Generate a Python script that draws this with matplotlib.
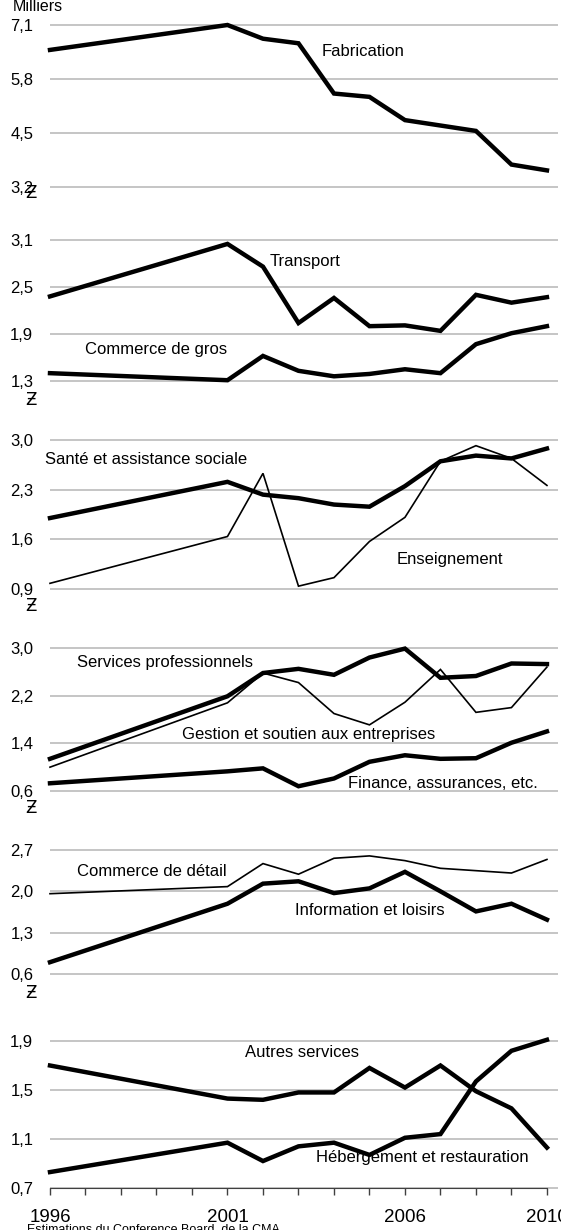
import matplotlib.pyplot as plt
import numpy as np

plt.rcParams['font.family'] = ['Liberation Sans', 'DejaVu Sans']

years = [1996, 2001, 2002, 2003, 2004, 2005, 2006, 2007, 2008, 2009, 2010]

fabrication = [6.50, 7.10, 6.77, 6.66, 5.45, 5.37, 4.81, 4.68, 4.55, 3.74, 3.60]
transport = [2.38, 3.05, 2.76, 2.04, 2.36, 2.00, 2.01, 1.94, 2.40, 2.30, 2.37]
commerce_gros = [1.40, 1.31, 1.62, 1.43, 1.36, 1.39, 1.45, 1.40, 1.77, 1.91, 2.00]
sante = [1.90, 2.41, 2.23, 2.18, 2.09, 2.06, 2.35, 2.70, 2.78, 2.74, 2.88]
enseignement = [0.98, 1.64, 2.53, 0.94, 1.06, 1.57, 1.91, 2.70, 2.92, 2.74, 2.36]
services_pro = [1.14, 2.19, 2.58, 2.65, 2.55, 2.84, 2.99, 2.50, 2.53, 2.74, 2.73]
gestion = [1.00, 2.08, 2.58, 2.42, 1.90, 1.71, 2.09, 2.64, 1.92, 2.00, 2.68]
finance = [0.73, 0.93, 0.98, 0.68, 0.81, 1.09, 1.20, 1.14, 1.15, 1.41, 1.60]
commerce_detail = [1.96, 2.08, 2.47, 2.29, 2.56, 2.60, 2.52, 2.39, 2.35, 2.31, 2.54]
information = [0.80, 1.79, 2.13, 2.17, 1.97, 2.05, 2.33, 2.00, 1.66, 1.79, 1.52]
autres = [1.70, 1.43, 1.42, 1.48, 1.48, 1.68, 1.52, 1.70, 1.49, 1.35, 1.03]
hebergement = [0.83, 1.07, 0.92, 1.04, 1.07, 0.97, 1.11, 1.14, 1.57, 1.82, 1.91]

yticks_list = [
    [3.2, 4.5, 5.8, 7.1],
    [1.3, 1.9, 2.5, 3.1],
    [0.9, 1.6, 2.3, 3.0],
    [0.6, 1.4, 2.2, 3.0],
    [0.6, 1.3, 2.0, 2.7],
    [0.7, 1.1, 1.5, 1.9],
]

# (values, line width, label, label x, label y)
panels = [
    [(fabrication, 3.2, 'Fabrication', 2003.66, 6.47)],
    [(transport, 3.2, 'Transport', 2002.2, 2.82),
     (commerce_gros, 3.2, 'Commerce de gros', 1997.0, 1.70)],
    [(sante, 3.2, 'Santé et assistance sociale', 1995.86, 2.72),
     (enseignement, 1.2, 'Enseignement', 2005.77, 1.31)],
    [(services_pro, 3.2, 'Services professionnels', 1996.76, 2.75),
     (gestion, 1.2, 'Gestion et soutien aux entreprises', 1999.72, 1.54),
     (finance, 3.2, 'Finance, assurances, etc.', 2004.39, 0.73)],
    [(commerce_detail, 1.2, 'Commerce de détail', 1996.76, 2.33),
     (information, 3.2, 'Information et loisirs', 2002.9, 1.68)],
    [(autres, 3.2, 'Autres services', 2001.49, 1.81),
     (hebergement, 3.2, 'Hébergement et restauration', 2003.49, 0.945)],
]

# panel pixel extents (top tick, bottom tick)
extents = [(25, 187), (240, 381), (440, 589), (648, 791), (850, 974), (1041, 1188)]
break_offsets = [6, 19, 17, 17, 19, None]

W, H = 561, 1230
fig = plt.figure(figsize=(W / 100, H / 100), dpi=100)

x_left, x_right = 50, 557.6
pad = 3

for i, (t, b) in enumerate(extents):
    lo, hi = yticks_list[i][0], yticks_list[i][-1]
    scale = (b - t) / (hi - lo)
    ax = fig.add_axes([x_left / W, 1 - (b + pad) / H,
                       (x_right - x_left) / W, (b - t + 2 * pad) / H])
    ax.set_ylim(lo - pad / scale, hi + pad / scale)
    ax.set_xlim(1996, 2010.3)

    for vals, lw, label, lx, ly in panels[i]:
        ax.plot(years, vals, color='black', lw=lw, solid_joinstyle='miter',
                clip_on=False, zorder=3)
        ax.text(lx, ly, label, fontsize=12, va='center', ha='left', zorder=4)

    ax.set_yticks(yticks_list[i])
    ax.set_yticklabels([f'{v:.1f}'.replace('.', ',') for v in yticks_list[i]])
    ax.tick_params(axis='y', length=0, pad=12, labelsize=12)
    ax.yaxis.grid(True, color='#c0c0c0', lw=1.3)
    ax.set_axisbelow(True)
    for s in ['top', 'right', 'left']:
        ax.spines[s].set_visible(False)

    if i < 5:
        ax.spines['bottom'].set_visible(False)
        ax.set_xticks([])
    else:
        ax.spines['bottom'].set_position(('data', lo))
        ax.spines['bottom'].set_bounds(1996, 2010)
        ax.spines['bottom'].set_color('#404040')
        ax.set_xticks(range(1996, 2011))
        ax.set_xticklabels(['1996', '', '', '', '', '2001', '', '', '', '', '2006',
                            '', '', '', '2010'])
        ax.tick_params(axis='x', length=5, width=1, color='#404040',
                       pad=10, labelsize=13.5)

    if break_offsets[i] is not None:
        fig.text(31 / W, 1 - (b + break_offsets[i]) / H, 'Ƶ', fontsize=12,
                 ha='center', va='center', family='DejaVu Sans')

fig.text(13 / W, 1 - 14 / H, 'Milliers', fontsize=11.5, ha='left', va='bottom')
fig.text(27 / W, 1 - 1224 / H, 'Estimations du Conference Board, de la CMA',
         fontsize=9, ha='left', va='top')

plt.savefig('out.png', dpi=100)
